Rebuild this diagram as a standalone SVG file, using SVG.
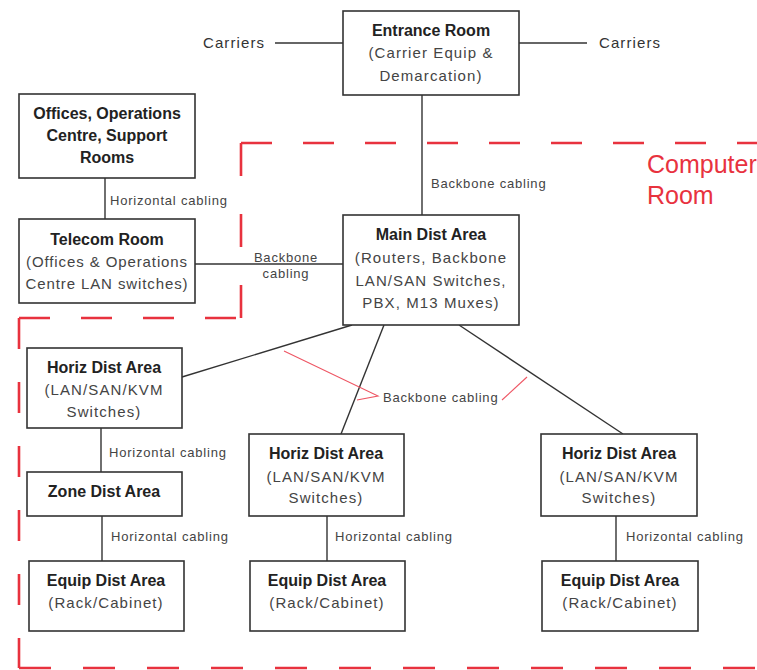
<svg xmlns="http://www.w3.org/2000/svg" width="757" height="670" viewBox="0 0 757 670">
<style>
.box{fill:#fff;stroke:#333;stroke-width:1.6}
.t{font-family:"Liberation Sans",Arial,sans-serif;font-weight:bold;font-size:16px;fill:#222;text-anchor:middle}
.s{font-family:"Liberation Sans",Arial,sans-serif;font-size:15px;fill:#444;text-anchor:middle;letter-spacing:1.1px}
.l{font-family:"Liberation Sans",Arial,sans-serif;font-size:13px;fill:#444;letter-spacing:0.8px}
.c{font-family:"Liberation Sans",Arial,sans-serif;font-size:15px;fill:#333;letter-spacing:1.1px}
.conn line{stroke:#333;stroke-width:1.4}
.red{stroke:#e8323e;stroke-width:2.6;fill:none}
.callout{stroke:#ee5563;stroke-width:1.1;fill:none}
.room{font-family:"Liberation Sans",Arial,sans-serif;font-size:25px;fill:#e8323e}
</style>
<g id="computer-room-boundary">
<path class="red" d="M241,143 H757" stroke-dasharray="31 31"/>
<path class="red" d="M241,143 V318" stroke-dasharray="33 38"/>
<path class="red" d="M19,318 H241" stroke-dasharray="31 31"/>
<path class="red" d="M19,318 V668" stroke-dasharray="31 33"/>
<path class="red" d="M19,668 H757" stroke-dasharray="32 32"/>
<text class="room" x="647" y="173">Computer</text>
<text class="room" x="647" y="204">Room</text>
</g>
<g id="connectors" class="conn">
<line x1="275" y1="43" x2="343" y2="43"/>
<line x1="519" y1="43" x2="587" y2="43"/>
<line x1="422" y1="95" x2="422" y2="215"/>
<line x1="105" y1="178" x2="105" y2="219"/>
<line x1="195" y1="264" x2="343" y2="264"/>
<line x1="352" y1="325" x2="182" y2="377"/>
<line x1="384" y1="325" x2="341" y2="434"/>
<line x1="459" y1="325" x2="623" y2="434"/>
<line x1="101" y1="428" x2="101" y2="472"/>
<line x1="102" y1="516" x2="102" y2="561"/>
<line x1="327" y1="516" x2="327" y2="561"/>
<line x1="616" y1="516" x2="616" y2="561"/>
<path class="callout" d="M284,351 L378,396 L357,400"/>
<path class="callout" d="M502,400 L527,377"/>
<text class="c" x="203" y="48">Carriers</text>
<text class="c" x="599" y="48">Carriers</text>
<text class="l" x="431" y="188">Backbone cabling</text>
<text class="l" x="110" y="205">Horizontal cabling</text>
<text class="l" x="286" y="262" text-anchor="middle">Backbone</text>
<text class="l" x="286" y="278" text-anchor="middle">cabling</text>
<text class="l" x="383" y="402">Backbone cabling</text>
<text class="l" x="109" y="457">Horizontal cabling</text>
<text class="l" x="111" y="541">Horizontal cabling</text>
<text class="l" x="335" y="541">Horizontal cabling</text>
<text class="l" x="626" y="541">Horizontal cabling</text>
</g>
<g id="entrance-room">
<rect class="box" x="343" y="11" width="176" height="84"/>
<text class="t" x="431" y="36">Entrance Room</text>
<text class="s" x="431" y="58">(Carrier Equip &amp;</text>
<text class="s" x="431" y="81">Demarcation)</text>
</g>
<g id="offices">
<rect class="box" x="19" y="94" width="176" height="84"/>
<text class="t" x="107" y="119">Offices, Operations</text>
<text class="t" x="107" y="141">Centre, Support</text>
<text class="t" x="107" y="163">Rooms</text>
</g>
<g id="telecom-room">
<rect class="box" x="19" y="219" width="176" height="84"/>
<text class="t" x="107" y="245">Telecom Room</text>
<text class="s" x="107" y="267" style="letter-spacing:0.9px">(Offices &amp; Operations</text>
<text class="s" x="107" y="289" style="letter-spacing:0.9px">Centre LAN switches)</text>
</g>
<g id="main-dist-area">
<rect class="box" x="343" y="215" width="176" height="110"/>
<text class="t" x="431" y="240">Main Dist Area</text>
<text class="s" x="431" y="263">(Routers, Backbone</text>
<text class="s" x="431" y="286">LAN/SAN Switches,</text>
<text class="s" x="431" y="308">PBX, M13 Muxes)</text>
</g>
<g id="horiz-dist-area-1">
<rect class="box" x="27" y="348" width="155" height="80"/>
<text class="t" x="104" y="373">Horiz Dist Area</text>
<text class="s" x="104" y="395">(LAN/SAN/KVM</text>
<text class="s" x="104" y="417">Switches)</text>
</g>
<g id="zone-dist-area">
<rect class="box" x="27" y="472" width="155" height="44"/>
<text class="t" x="104" y="497">Zone Dist Area</text>
</g>
<g id="equip-dist-area-1">
<rect class="box" x="29" y="561" width="155" height="70"/>
<text class="t" x="106" y="586">Equip Dist Area</text>
<text class="s" x="106" y="608">(Rack/Cabinet)</text>
</g>
<g id="horiz-dist-area-2">
<rect class="box" x="249" y="434" width="155" height="82"/>
<text class="t" x="326" y="459">Horiz Dist Area</text>
<text class="s" x="326" y="482">(LAN/SAN/KVM</text>
<text class="s" x="326" y="503">Switches)</text>
</g>
<g id="equip-dist-area-2">
<rect class="box" x="250" y="561" width="155" height="70"/>
<text class="t" x="327" y="586">Equip Dist Area</text>
<text class="s" x="327" y="608">(Rack/Cabinet)</text>
</g>
<g id="horiz-dist-area-3">
<rect class="box" x="541" y="434" width="156" height="82"/>
<text class="t" x="619" y="459">Horiz Dist Area</text>
<text class="s" x="619" y="482">(LAN/SAN/KVM</text>
<text class="s" x="619" y="503">Switches)</text>
</g>
<g id="equip-dist-area-3">
<rect class="box" x="542" y="561" width="156" height="70"/>
<text class="t" x="620" y="586">Equip Dist Area</text>
<text class="s" x="620" y="608">(Rack/Cabinet)</text>
</g>
</svg>
